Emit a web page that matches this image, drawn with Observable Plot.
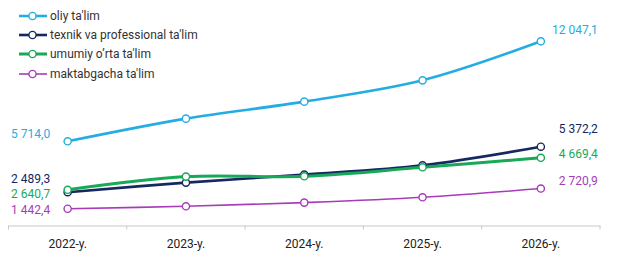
<!DOCTYPE html>
<html>
<head>
<meta charset="utf-8">
<script src="https://cdn.jsdelivr.net/npm/d3@7"></script>
<script src="https://cdn.jsdelivr.net/npm/@observablehq/plot@0.6"></script>
<style>
  html, body { margin: 0; padding: 0; background: #fff; }
  #wrap { position: relative; width: 628px; height: 263px; font-family: Roboto, sans-serif; }
  #legend { position: absolute; left: 19px; top: 6px; font-size: 12px; color: #333; }
  #legend .row { display: flex; align-items: center; height: 19.4px; }
  #legend svg { margin-right: 3px; }
</style>
</head>
<body>
<div id="wrap"><div id="legend"></div></div>
<script>
const years = [2022, 2023, 2024, 2025, 2026];
const seriesNames = ["oliy ta'lim", "texnik va professional ta'lim", "umumiy o’rta ta'lim", "maktabgacha ta'lim"];
const oliy = [5714.0, 7150, 8227, 9576, 12047.1];
const texnik = [2489.3, 3097, 3604, 4192, 5372.2];
const umumiy = [2640.7, 3477, 3496, 4066, 4669.4];
const maktab = [1442.4, 1596, 1830, 2166, 2720.9];

const values = [oliy, texnik, umumiy, maktab];
const colors = ["#25ade3", "#16285f", "#17a957", "#a83bba"];
const widths = [2.6, 2.6, 3, 1.6];
// label offsets per series: [left dy, right dy]
const labelDy = [[-7, -11], [-13, -18], [4, -4], [1.5, -7]];
const drawOrder = [0, 3, 1, 2];

const loc = d3.formatLocale({decimal: ",", thousands: " ", grouping: [3], currency: ["", ""]});
const fmt = loc.format(",.1f");

const rows = [];
values.forEach((arr, s) => arr.forEach((v, i) => rows.push({s, name: seriesNames[s], year: years[i], value: v})));

const boundaries = [years[0] - 0.5, ...years.map(y => y + 0.5)];

const marks = [
  Plot.frame({anchor: "bottom", stroke: "#c9c9c9"}),
  Plot.axisX({ticks: boundaries, tickSize: 4, tickFormat: () => "", stroke: "#c9c9c9", label: null}),
  Plot.axisX({ticks: years, tickSize: 0, tickPadding: 13, tickFormat: d => `${d}-y.`, fill: "#222", fontSize: 12, label: null})
];
for (const s of drawOrder) {
  const data = rows.filter(r => r.s === s);
  marks.push(Plot.line(data, {x: "year", y: "value", stroke: colors[s], strokeWidth: widths[s], curve: "catmull-rom"}));
}
for (const s of drawOrder) {
  const data = rows.filter(r => r.s === s);
  marks.push(Plot.dot(data, {x: "year", y: "value", r: 3.6, fill: "white", stroke: colors[s], strokeWidth: 1.4}));
}
for (let s = 0; s < values.length; s++) {
  const data = rows.filter(r => r.s === s);
  const first = [data[0]], last = [data[data.length - 1]];
  marks.push(Plot.text(first, {x: "year", y: "value", text: d => fmt(d.value), textAnchor: "end", dx: -17.5, dy: labelDy[s][0], fill: colors[s], fontSize: 12}));
  marks.push(Plot.text(last, {x: "year", y: "value", text: d => fmt(d.value), textAnchor: "end", dx: 57, dy: labelDy[s][1], fill: colors[s], fontSize: 12}));
}

const chart = Plot.plot({
  width: 628,
  height: 263,
  marginLeft: 8,
  marginRight: 28.5,
  marginTop: 10,
  marginBottom: 37.5,
  x: {domain: [years[0] - 0.5, years[years.length - 1] + 0.5], label: null},
  y: {domain: [0, 14000], range: [231, 10], axis: null},
  style: {fontFamily: "Roboto, sans-serif", fontSize: "12px", background: "white", overflow: "visible"},
  marks
});
document.getElementById("wrap").prepend(chart);

const legend = document.getElementById("legend");
seriesNames.forEach((name, s) => {
  const row = document.createElement("div");
  row.className = "row";
  row.innerHTML = `<svg width="28" height="10"><line x1="0" x2="28" y1="5" y2="5" stroke="${colors[s]}" stroke-width="${widths[s]}"/><circle cx="13.5" cy="5" r="3.6" fill="white" stroke="${colors[s]}" stroke-width="1.4"/></svg><span>${name}</span>`;
  legend.appendChild(row);
});
</script>
</body>
</html>
